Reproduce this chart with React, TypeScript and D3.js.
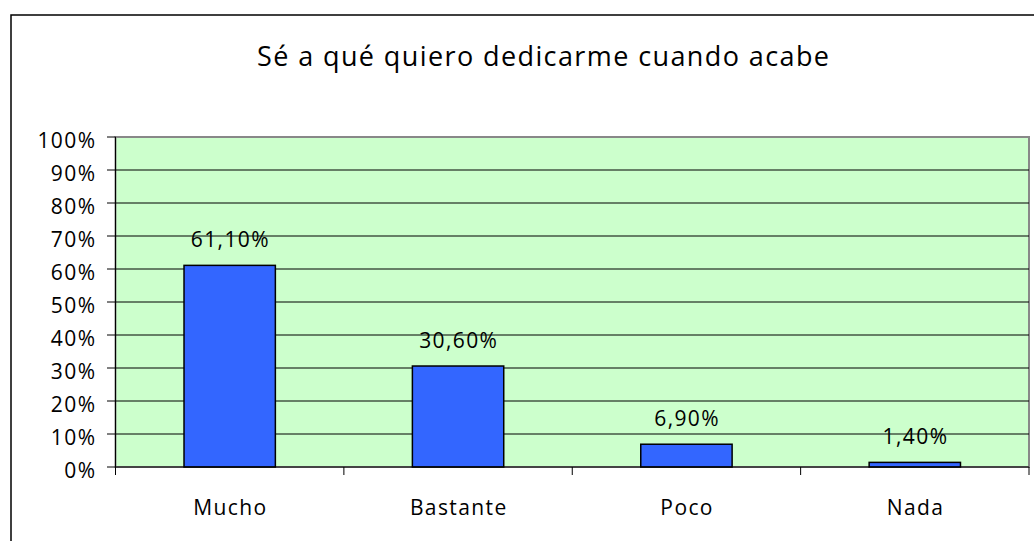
import React from "react";
import * as d3 from "d3";

const categories = ["Mucho", "Bastante", "Poco", "Nada"];
const values = [61.1, 30.6, 6.9, 1.4];
const valueLabels = ["61,10%", "30,60%", "6,90%", "1,40%"];
const yTicks = [0, 10, 20, 30, 40, 50, 60, 70, 80, 90, 100];
const title = "Sé a qué quiero dedicarme cuando acabe";

const W = 1034;
const H = 541;
const plot = { left: 115.5, right: 1029, top: 137, bottom: 467 };
const FONT = "'Open Sans', 'Noto Sans', sans-serif";
const LS = 1.4;

export default function App() {
  const x = d3
    .scaleBand<string>()
    .domain(categories)
    .range([plot.left, plot.right])
    .paddingInner(0.6)
    .paddingOuter(0.3);
  const band = d3.scaleBand<string>().domain(categories).range([plot.left, plot.right]);
  const y = d3.scaleLinear().domain([0, 100]).range([plot.bottom, plot.top]);

  const boundaries = [plot.left, ...categories.map((c) => (band(c) as number) + band.bandwidth())];

  return (
    <svg
      width={W}
      height={H}
      style={{ position: "absolute", left: 0, top: 0, background: "#fff" }}
      fontFamily={FONT}
    >
      <rect x={11} y={15} width={W + 20} height={H + 20} fill="#fff" stroke="#000" strokeWidth={1.5} />
      <text x={543} dx={LS / 2} y={66} textAnchor="middle" fontSize={27} letterSpacing={LS} fill="#000">
        {title}
      </text>
      {/* plot area */}
      <rect
        x={plot.left}
        y={plot.top}
        width={plot.right - plot.left}
        height={plot.bottom - plot.top}
        fill="#CCFFCC"
        stroke="#888"
        strokeWidth={2}
      />
      {/* gridlines */}
      {yTicks.slice(1, -1).map((t) => (
        <line key={t} x1={plot.left} x2={plot.right} y1={y(t)} y2={y(t)} stroke="#000" strokeWidth={1} />
      ))}
      {/* y axis */}
      <line x1={plot.left} x2={plot.left} y1={plot.top} y2={plot.bottom} stroke="#000" strokeWidth={1} />
      {yTicks.map((t) => (
        <g key={t}>
          <line x1={107} x2={plot.left} y1={y(t)} y2={y(t)} stroke="#000" strokeWidth={1} />
          <text
            x={95 + LS}
            y={y(t) + 10.5}
            textAnchor="end"
            fontSize={21}
            letterSpacing={LS}
            fill="#000"
          >
            {t}%
          </text>
        </g>
      ))}
      {/* bars */}
      {categories.map((c, i) => (
        <g key={c}>
          <rect
            x={x(c)}
            y={y(values[i])}
            width={x.bandwidth()}
            height={plot.bottom - y(values[i])}
            fill="#3366FF"
            stroke="#000"
            strokeWidth={1.5}
          />
          <text
            x={(x(c) as number) + x.bandwidth() / 2 + LS / 2}
            y={y(values[i]) - 18}
            textAnchor="middle"
            fontSize={21}
            letterSpacing={LS}
            fill="#000"
          >
            {valueLabels[i]}
          </text>
          <text
            x={(band(c) as number) + band.bandwidth() / 2 + LS / 2}
            y={515}
            textAnchor="middle"
            fontSize={21}
            letterSpacing={LS}
            fill="#000"
          >
            {c}
          </text>
        </g>
      ))}
      {/* x axis */}
      <line x1={plot.left} x2={plot.right} y1={plot.bottom} y2={plot.bottom} stroke="#000" strokeWidth={1} />
      {boundaries.map((b, i) => (
        <line key={i} x1={b} x2={b} y1={plot.bottom} y2={plot.bottom + 8} stroke="#000" strokeWidth={1} />
      ))}
    </svg>
  );
}
